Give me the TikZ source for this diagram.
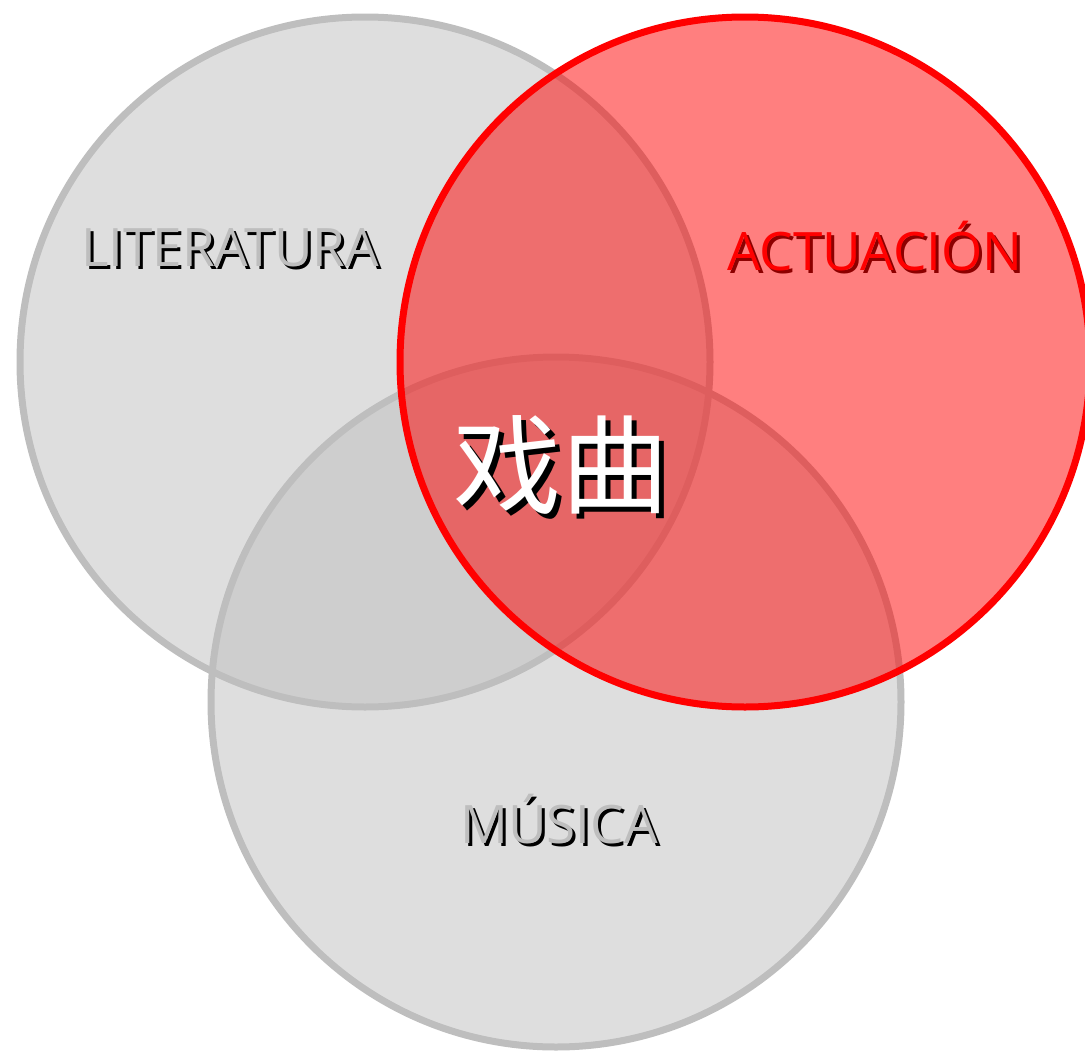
\documentclass[tikz,border=0pt]{standalone}
\usepackage{fontspec}
\setmainfont{Open Sans}
\newfontfamily\cjk{Noto Sans CJK SC}
\definecolor{circgray}{RGB}{190,190,190}
\definecolor{shadowred}{RGB}{140,0,0}
\tikzset{
  graycirc/.style={draw=circgray, line width=7pt, fill=circgray, fill opacity=0.5},
  redcirc/.style={draw=red, line width=7pt, fill=red, fill opacity=0.5, draw opacity=1},
  lbl/.style={font=\fontsize{53}{53}\selectfont, inner sep=0pt},
  hanzi/.style={font=\cjk\fontsize{108}{108}\selectfont, inner sep=0pt},
}
\begin{document}
\begin{tikzpicture}[x=1pt,y=-1pt]
\useasboundingbox (0,0) rectangle (1085,1052);
\path[graycirc] (365,362) circle[radius=345];
\path[graycirc] (556,702) circle[radius=345];
\path[redcirc] (745,362) circle[radius=345];
% labels with shadows
\node[lbl, text=black] (litS) at (233,251) {LITERATURA};
\node[lbl, text=circgray] (lit) at (230,248) {LITERATURA};
\node[lbl, text=shadowred] (actS) at (878,249) {ACTUACIÓN};
\node[lbl, text=red] (act) at (875,246) {ACTUACIÓN};
\node[lbl, text=black] (musS) at (562,822) {MÚSICA};
\node[lbl, text=circgray] (mus) at (559,819) {MÚSICA};
\node[hanzi, text=black] (xqS) at (566,470) {戏曲};
\node[hanzi, text=white] (xq) at (561,465) {戏曲};
\end{tikzpicture}
\end{document}
